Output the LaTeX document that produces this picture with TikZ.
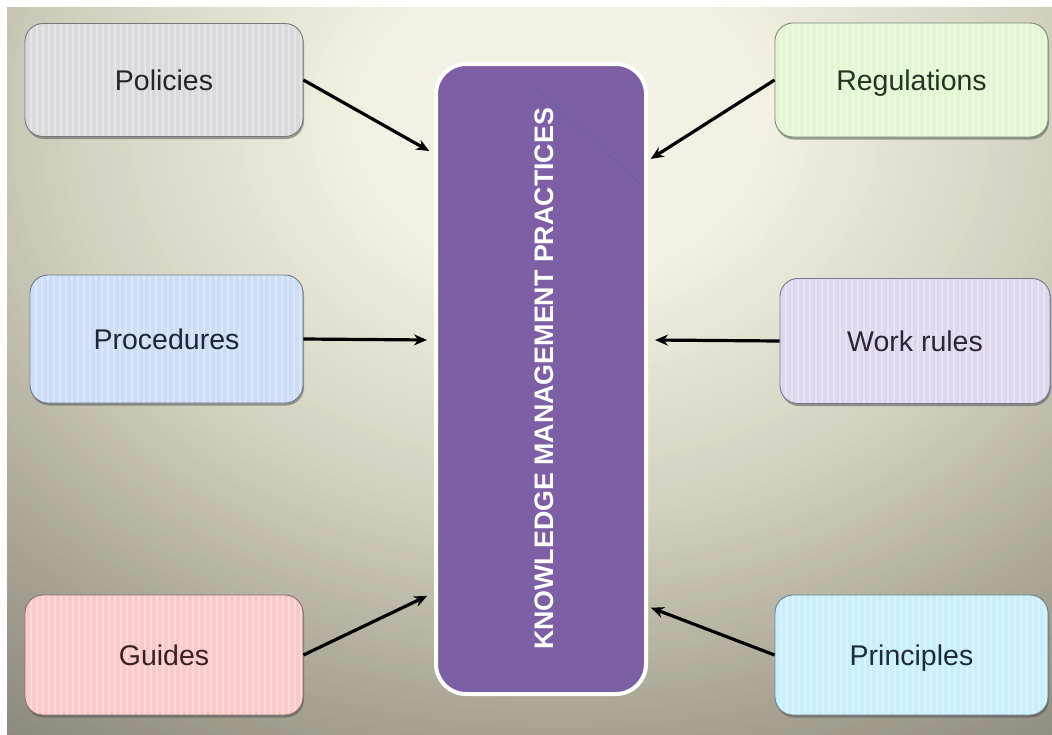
\documentclass[tikz,border=0pt]{standalone}
\usepackage{fontspec}
\setmainfont{Liberation Sans}
\usetikzlibrary{arrows.meta,shadows}

% backdrop colours, from the bright middle outwards
\definecolor{bgA}{HTML}{F2F1E3}
\definecolor{bgB}{HTML}{D2D0BF}
\definecolor{bgC}{HTML}{A9A695}
\definecolor{bgD}{HTML}{8B897B}
% box fills
\definecolor{fillPol}{HTML}{DADADD}
\definecolor{fillReg}{HTML}{E3F7D3}
\definecolor{fillPro}{HTML}{CCDEF7}
\definecolor{fillWrk}{HTML}{DFD7F0}
\definecolor{fillGui}{HTML}{FBC9C9}
\definecolor{fillPri}{HTML}{C8EFFB}
% box text
\definecolor{txtPol}{HTML}{262628}
\definecolor{txtReg}{HTML}{243424}
\definecolor{txtPro}{HTML}{1E2638}
\definecolor{txtWrk}{HTML}{2A2638}
\definecolor{txtGui}{HTML}{3A2222}
\definecolor{txtPri}{HTML}{1C2C3A}
\definecolor{kmpurple}{HTML}{7D5FA6}
\definecolor{glint}{HTML}{5C5FAE}

\tikzset{
  itembox/.style n args={3}{
    draw=#1!55!black, line width=0.9pt, fill=#1,
    rounded corners=18pt, minimum width=#3, inner sep=0pt,
    text height=20.5pt, text depth=0pt,
    text=#2, font=\fontsize{28.5}{32}\selectfont,
    drop shadow={shadow xshift=1pt, shadow yshift=-2.5pt, opacity=0.5, fill=black!70},
    path picture={
      \foreach \k in {0,6,...,300}
        \draw[white, opacity=0.3, line width=1.2pt]
          ([xshift=\k pt]path picture bounding box.north west) --
          ([xshift=\k pt]path picture bounding box.south west);
    }
  },
  feed/.style={line width=3.2pt, black, -{Stealth[length=13pt,width=11pt]}, shorten >=2pt},
  kmbox/.style={
    draw=white, line width=4pt, fill=kmpurple, rounded corners=30pt,
    minimum width=210pt, minimum height=630pt, inner sep=0pt
  }
}

\begin{document}
\begin{tikzpicture}[x=1pt, y=-1pt]
  \useasboundingbox (0,0) rectangle (1052,734);
  \fill[white] (0,0) rectangle (1052,734);

  % backdrop: nested ellipses stepping from dark rim to bright centre
  \begin{scope}
    \clip (7,7) rectangle (1052,734);
    \fill[bgD] (7,7) rectangle (1052,734);
    \foreach \r in {980,970,...,10} {
      \pgfmathsetmacro\pab{max(0,min(100,(500-\r)/3))}
      \pgfmathsetmacro\pbc{max(0,min(100,(750-\r)/2.5))}
      \pgfmathsetmacro\pcd{max(0,min(100,(960-\r)/2.1))}
      \colorlet{ringAB}{bgA!\pab!bgB}
      \colorlet{ringBC}{ringAB!\pbc!bgC}
      \colorlet{ring}{ringBC!\pcd!bgD}
      \fill[ring] (560,120) ellipse[x radius=\r, y radius=\r/1.25];
    }
  \end{scope}

  % central panel
  \node[kmbox] (km) at (541,379) {};
  \node[rotate=90, text=white, font=\bfseries\fontsize{26.8}{30}\selectfont] (kmlabel) at (544,379)
    {KNOWLEDGE MANAGEMENT PRACTICES};
  \coordinate (glintA) at (537,88);
  \coordinate (glintB) at (640,184);
  \draw[glint, line width=0.8pt, opacity=0.8] (glintA) -- (glintB);
  \fill[glint, opacity=0.8] (glintB) circle[radius=1.3];

  % surrounding boxes
  \node[itembox={fillPol}{txtPol}{278pt}, minimum height=113pt] (pol) at (164,80) {Policies};
  \node[itembox={fillReg}{txtReg}{273pt}, minimum height=114pt] (reg) at (911.5,80) {Regulations};
  \node[itembox={fillPro}{txtPro}{273pt}, minimum height=128pt] (pro) at (166.5,339) {Procedures};
  \node[itembox={fillWrk}{txtWrk}{270pt}, minimum height=125pt] (wrk) at (915,341) {Work rules};
  \node[itembox={fillGui}{txtGui}{278pt}, minimum height=120pt] (gui) at (164,655) {Guides};
  \node[itembox={fillPri}{txtPri}{273pt}, minimum height=120pt] (pri) at (911.5,655) {Principles};

  % arrows into the central panel
  \draw[feed] (pol.east) -- ([xshift=-3pt, yshift=227pt]km.west);
  \draw[feed] (reg.west) -- ([xshift=1pt, yshift=219pt]km.east);
  \draw[feed] (pro.east) -- ([xshift=-5pt, yshift=39pt]km.west);
  \draw[feed] (wrk.west) -- ([xshift=5pt, yshift=39pt]km.east);
  \draw[feed] (gui.east) -- ([xshift=-5pt, yshift=-216pt]km.west);
  \draw[feed] (pri.west) -- ([xshift=1pt, yshift=-228pt]km.east);
\end{tikzpicture}
\end{document}
